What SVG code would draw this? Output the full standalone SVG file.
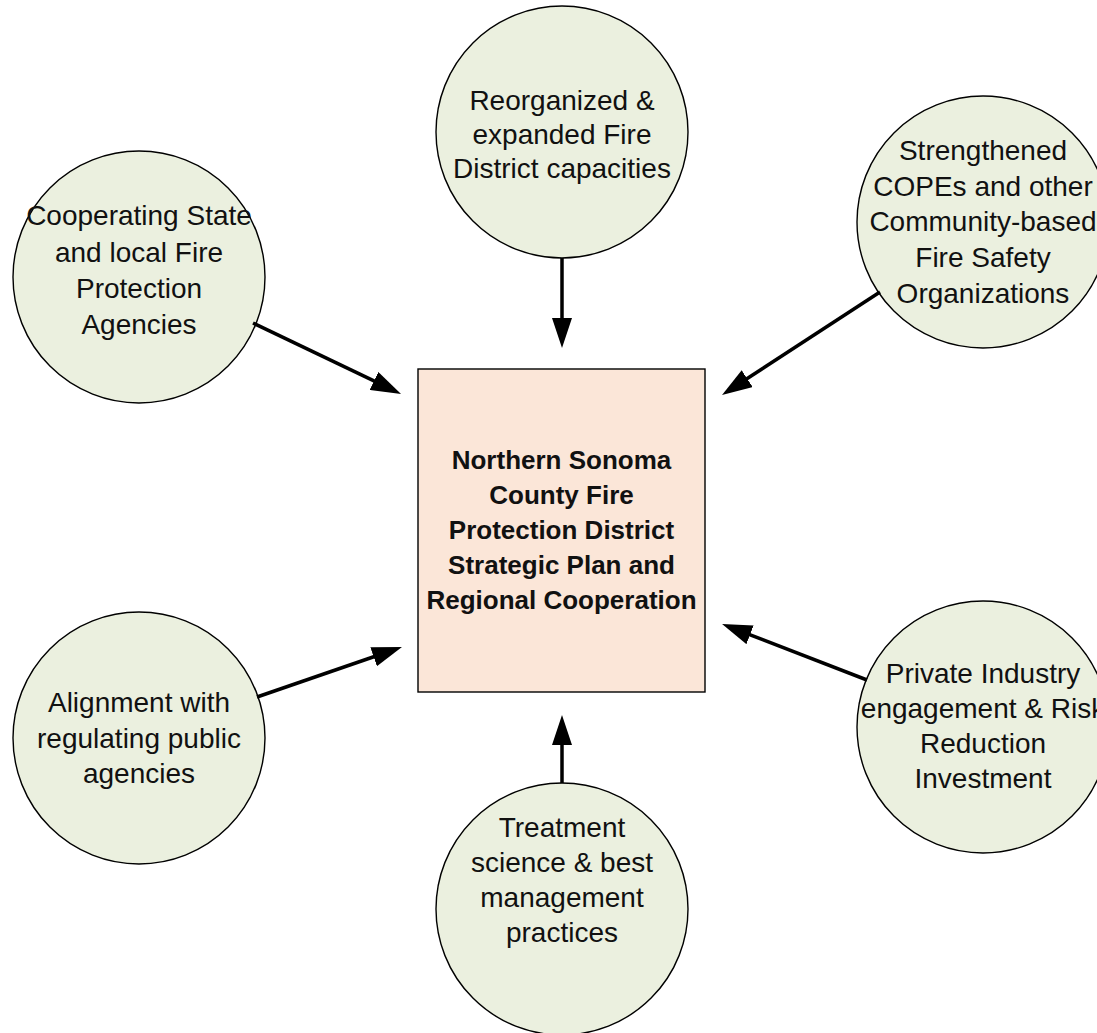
<svg xmlns="http://www.w3.org/2000/svg" width="1097" height="1033" viewBox="0 0 1097 1033">
<style>
.bg{fill:#ffffff}
.circ{fill:#EBF0DF;stroke:#000;stroke-width:1.4}
.box{fill:#FBE6D8;stroke:#000;stroke-width:1.4}
.t{font-family:"Liberation Sans",Arial,sans-serif;font-size:28px;fill:#111;text-anchor:middle}
.tb{font-family:"Liberation Sans",Arial,sans-serif;font-size:26px;font-weight:bold;fill:#111;text-anchor:middle}
.conn{stroke:#000;stroke-width:3.5;fill:none;marker-end:url(#ah)}
</style>
<defs>
<marker id="ah" markerUnits="userSpaceOnUse" markerWidth="30" markerHeight="20" refX="4" refY="10" orient="auto" viewBox="0 0 30 20">
<path d="M0,0 L30,10 L0,20 z" fill="#000"/>
</marker>
</defs>
<rect class="bg" x="0" y="0" width="1097" height="1033"/>
<g id="center">
<rect class="box" x="418" y="369" width="287" height="323"/>
<text class="tb" x="561.5"><tspan x="561.5" y="469">Northern Sonoma</tspan><tspan x="561.5" y="504">County Fire</tspan><tspan x="561.5" y="539">Protection District</tspan><tspan x="561.5" y="574">Strategic Plan and</tspan><tspan x="561.5" y="609">Regional Cooperation</tspan></text>
</g>
<g id="n-top">
<circle class="circ" cx="562" cy="132" r="126"/>
<text class="t"><tspan x="562" y="110">Reorganized &amp;</tspan><tspan x="562" y="144">expanded Fire</tspan><tspan x="562" y="178">District capacities</tspan></text>
</g>
<g id="n-topleft">
<circle class="circ" cx="139" cy="277" r="126"/>
<text class="t"><tspan x="139" y="225">Cooperating State</tspan><tspan x="139" y="262">and local Fire</tspan><tspan x="139" y="298">Protection</tspan><tspan x="139" y="334">Agencies</tspan></text>
</g>
<g id="n-topright">
<circle class="circ" cx="983" cy="222" r="126"/>
<text class="t"><tspan x="983" y="160">Strengthened</tspan><tspan x="983" y="196">COPEs and other</tspan><tspan x="983" y="231">Community-based</tspan><tspan x="983" y="267">Fire Safety</tspan><tspan x="983" y="303">Organizations</tspan></text>
</g>
<g id="n-bottomleft">
<circle class="circ" cx="139" cy="738" r="126"/>
<text class="t"><tspan x="139" y="712">Alignment with</tspan><tspan x="139" y="748">regulating public</tspan><tspan x="139" y="783">agencies</tspan></text>
</g>
<g id="n-bottom">
<circle class="circ" cx="562" cy="909" r="126"/>
<text class="t"><tspan x="562" y="837">Treatment</tspan><tspan x="562" y="872">science &amp; best</tspan><tspan x="562" y="907">management</tspan><tspan x="562" y="942">practices</tspan></text>
</g>
<g id="n-bottomright">
<circle class="circ" cx="983" cy="727" r="126"/>
<text class="t"><tspan x="983" y="683">Private Industry</tspan><tspan x="983" y="718">engagement &amp; Risk</tspan><tspan x="983" y="753">Reduction</tspan><tspan x="983" y="788">Investment</tspan></text>
</g>
<g id="connectors">
<line class="conn" x1="562" y1="258" x2="562" y2="322"/>
<line class="conn" x1="253" y1="323" x2="377.6" y2="382.7"/>
<line class="conn" x1="880" y1="292" x2="743.8" y2="380.8"/>
<line class="conn" x1="257" y1="697" x2="377.4" y2="655.5"/>
<line class="conn" x1="867" y1="680" x2="746.3" y2="633.4"/>
<line class="conn" x1="562" y1="783" x2="562" y2="741"/>
</g>
</svg>
